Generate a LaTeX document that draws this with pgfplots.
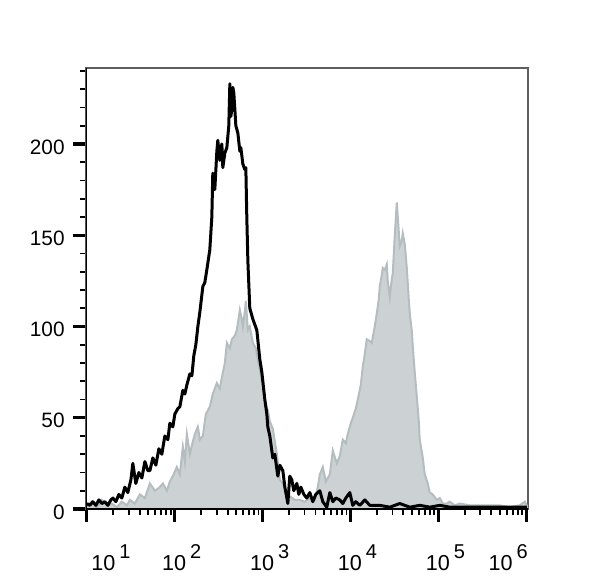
\documentclass[border=0pt]{standalone}
\usepackage{fontspec}
\setmainfont{Liberation Sans}
\usepackage{pgfplots}
\pgfplotsset{compat=1.18}

\definecolor{fillgray}{RGB}{204,210,212}
\definecolor{edgegray}{RGB}{180,189,191}
\definecolor{framegray}{RGB}{95,95,95}

% decade label: 10 with a raised exponent
\newcommand{\dec}[1]{10\hspace{2pt}\raisebox{6pt}{\fontsize{10}{10}\selectfont #1}}

\begin{document}
\begin{tikzpicture}
\useasboundingbox (-43pt,-35.5pt) rectangle (257pt,254.5pt);
\begin{axis}[
    scale only axis,
    width=221pt, height=220.5pt,
    xmin=0.99, xmax=6.02,
    ymin=0, ymax=241.6,
    axis line style={framegray, line width=0.8pt},
    tick pos=left,
    tick align=outside,
    major tick length=6.5pt,
    minor tick length=3pt,
    major tick style={black, line width=1.6pt},
    minor tick style={black, line width=0.9pt},
    xtick={1,2,3,4,5,6},
    xticklabels={\hspace*{17pt}\dec{1}, \dec{2}, \dec{3}, \dec{4}, \dec{5}, \dec{6}\hspace*{25pt}},
    minor xtick={1.301,1.477,1.602,1.699,1.778,1.845,1.903,1.954,
                 2.301,2.477,2.602,2.699,2.778,2.845,2.903,2.954,
                 3.301,3.477,3.602,3.699,3.778,3.845,3.903,3.954,
                 4.301,4.477,4.602,4.699,4.778,4.845,4.903,4.954,
                 5.301,5.477,5.602,5.699,5.778,5.845,5.903,5.954},
    ytick={0,50,100,150,200},
    yticklabels={0,50,100,150,200},
    minor ytick={10,20,30,40,60,70,80,90,110,120,130,140,160,170,180,190,210,220,230,240},
    xticklabel style={font=\fontsize{10.8}{12}\selectfont, anchor=north, inner sep=0pt, xshift=3.5pt, yshift=-11pt},
    yticklabel style={font=\fontsize{10.4}{12}\selectfont, anchor=east, inner sep=0pt, xshift=-4pt, yshift=-1.5pt},
]
% stained sample (filled grey)
\addplot[fill=fillgray, draw=edgegray, line width=1pt] table {
1.000 2
1.057 4
1.114 1
1.171 5
1.228 2
1.284 3
1.341 1
1.398 4
1.455 2
1.489 5
1.546 3
1.603 8
1.660 6
1.717 14
1.774 10
1.830 12
1.865 14
1.910 10
1.944 15
1.978 18
2.024 23
2.058 19
2.092 34
2.115 26
2.138 41
2.172 30
2.195 35
2.229 41
2.263 45
2.286 38
2.320 40
2.354 52
2.399 56
2.433 63
2.479 69
2.513 66
2.536 72
2.570 80
2.593 91
2.627 88
2.650 93
2.684 95
2.706 98
2.741 109
2.763 104
2.775 100
2.797 108
2.809 114
2.832 98
2.854 100
2.889 91
2.923 88
2.968 76
3.002 68
3.025 59
3.059 54
3.082 48
3.116 44
3.139 37
3.162 30
3.196 16
3.230 14
3.275 8
3.309 7
3.366 5
3.423 5
3.480 4
3.537 6
3.594 5
3.628 12
3.651 19
3.685 23
3.719 15
3.765 19
3.799 32
3.844 25
3.878 29
3.912 38
3.947 36
3.969 41
4.003 47
4.026 50
4.060 55
4.083 60
4.117 68
4.140 78
4.163 85
4.185 93
4.220 92
4.242 91
4.276 100
4.299 107
4.322 115
4.333 122
4.356 128
4.367 132
4.390 131
4.413 134
4.424 125
4.447 116
4.470 126
4.481 129
4.504 150
4.527 168
4.538 160
4.561 144
4.584 147
4.595 151
4.618 145
4.641 132
4.663 115
4.675 107
4.697 98
4.709 89
4.731 75
4.754 62
4.777 48
4.788 38
4.823 28
4.845 19
4.879 14
4.902 9
4.936 8
4.982 5
5.016 6
5.050 3
5.096 3
5.130 4
5.187 2
5.243 3
5.357 2
5.471 2
5.585 2
5.698 2
5.812 1
5.926 2
5.983 4
6.006 2
} \closedcycle;
% unstained control (black line)
\addplot[black, line width=1.5pt, line join=round] table {
1.000 3
1.034 2
1.068 4
1.102 2
1.137 5
1.171 3
1.205 4
1.239 2
1.273 5
1.296 6
1.330 4
1.364 8
1.398 6
1.432 12
1.466 9
1.501 16
1.523 25
1.557 14
1.592 20
1.626 17
1.660 26
1.694 21
1.717 21
1.751 28
1.785 24
1.819 33
1.853 30
1.887 40
1.922 38
1.944 47
1.978 45
2.001 52
2.035 55
2.058 56
2.092 65
2.115 63
2.138 68
2.172 74
2.195 73
2.217 84
2.240 90
2.263 100
2.286 108
2.320 122
2.342 124
2.365 131
2.399 142
2.422 160
2.433 184
2.456 175
2.479 196
2.490 202
2.513 191
2.536 200
2.547 187
2.570 195
2.593 198
2.615 210
2.627 233
2.638 215
2.650 219
2.661 231
2.672 228
2.684 219
2.695 210
2.718 206
2.741 196
2.752 198
2.775 189
2.797 186
2.809 187
2.820 160
2.832 136
2.854 110
2.889 104
2.934 98
2.968 82
2.991 75
3.025 60
3.048 52
3.059 45
3.082 40
3.116 28
3.139 30
3.173 18
3.196 24
3.230 21
3.253 12
3.287 3
3.309 18
3.332 16
3.355 10
3.389 14
3.412 8
3.435 12
3.469 8
3.503 6
3.537 9
3.571 4
3.605 8
3.651 10
3.685 4
3.730 1
3.765 9
3.799 4
3.833 6
3.878 5
3.912 3
3.947 6
3.992 9
4.026 2
4.060 4
4.106 2
4.163 5
4.220 2
4.333 2
4.447 1
4.561 3
4.675 1
4.788 2
4.902 1
5.016 2
5.130 1
5.243 1
5.471 1
5.698 1
6.006 1
};
% heavy left and bottom frame
\draw[black, line width=1.5pt] (rel axis cs:0,1) -- (rel axis cs:0,0) -- (rel axis cs:1,0);
\end{axis}
\end{tikzpicture}
\end{document}
